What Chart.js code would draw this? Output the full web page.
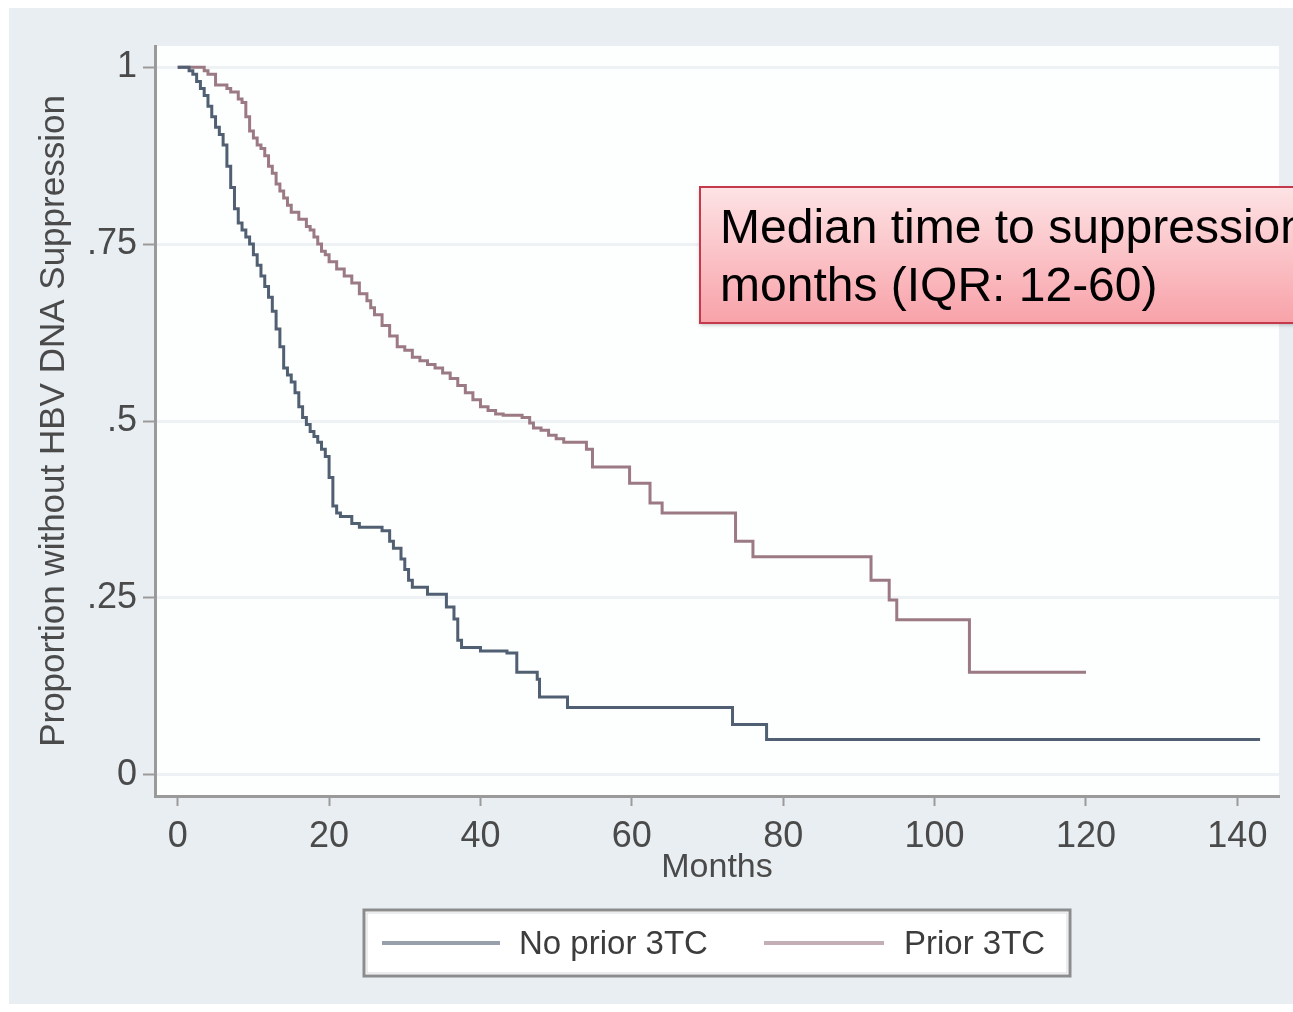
<!DOCTYPE html>
<html>
<head>
<meta charset="utf-8">
<script src="https://cdn.jsdelivr.net/npm/chart.js@4.4.1/dist/chart.umd.min.js"></script>
<style>
    html, body { margin: 0; padding: 0; background: #ffffff; }
    #wrap { width: 1293px; height: 1012px; position: relative; }
</style>
</head>
<body>
<div id="wrap"><canvas id="kmChart"></canvas></div>
<script>
// Kaplan-Meier style curves
const xTicks = [0, 20, 40, 60, 80, 100, 120, 140];
const yTicks = [0, 0.25, 0.5, 0.75, 1];
const yTickLabels = ['0', '.25', '.5', '.75', '1'];

const seriesLabels = ['No prior 3TC', 'Prior 3TC'];

const noPriorMonths = [0, 1, 1.5, 2, 2.5, 3, 3.5, 4, 4.5, 5, 5.5, 6, 6.5, 7, 7.5, 8, 8.5, 9, 9.5, 10,
    10.5, 11, 11.5, 12, 12.5, 13, 13.5, 14, 14.5, 15, 15.5, 16, 16.5, 17, 17.5, 18, 18.5, 19, 19.5, 20,
    20.5, 21, 21.5, 23, 24, 27, 28, 28.5, 29.5, 30, 30.5, 31, 33, 35.5, 36.5, 37, 37.5, 40, 43.5, 44.8,
    47.5, 47.8, 51.5, 73.3, 77.8, 143];
const noPriorSurv = [1, 1, 0.995, 0.99, 0.98, 0.97, 0.96, 0.945, 0.93, 0.915, 0.905, 0.89, 0.86, 0.83, 0.80, 0.78, 0.77, 0.76, 0.75, 0.735,
    0.72, 0.705, 0.69, 0.675, 0.655, 0.63, 0.605, 0.575, 0.565, 0.555, 0.54, 0.52, 0.505, 0.495, 0.485, 0.478, 0.47, 0.46, 0.45, 0.42,
    0.38, 0.37, 0.365, 0.355, 0.35, 0.345, 0.33, 0.32, 0.305, 0.29, 0.275, 0.265, 0.255, 0.237, 0.22, 0.19, 0.18, 0.175, 0.172, 0.145,
    0.135, 0.11, 0.095, 0.071, 0.05, 0.05];

const priorMonths = [0, 3, 3.5, 4, 5, 6.5, 7, 8, 8.5, 9, 9.5, 10, 10.5, 11, 11.5, 12, 12.5, 13, 13.5, 14,
    14.5, 15, 16, 17, 17.5, 18, 18.5, 19, 19.5, 20, 21, 22, 23, 24, 25, 25.5, 26, 27, 28, 29,
    30, 31, 32, 33, 34, 35, 36, 37, 38, 39, 40, 41, 42, 43, 45.5, 46.5, 47, 48, 49, 50,
    51, 54, 54.8, 59.7, 62.4, 64, 73.7, 76, 91.6, 94, 95, 104.6, 120];
const priorSurv = [1, 1, 0.995, 0.99, 0.975, 0.97, 0.965, 0.955, 0.95, 0.93, 0.91, 0.90, 0.89, 0.885, 0.875, 0.86, 0.85, 0.835, 0.825, 0.815,
    0.805, 0.795, 0.785, 0.775, 0.77, 0.76, 0.75, 0.74, 0.735, 0.725, 0.715, 0.705, 0.695, 0.68, 0.67, 0.66, 0.65, 0.635, 0.62, 0.605,
    0.60, 0.59, 0.585, 0.58, 0.575, 0.568, 0.56, 0.55, 0.54, 0.53, 0.52, 0.515, 0.51, 0.508, 0.505, 0.497, 0.49, 0.487, 0.48, 0.475,
    0.47, 0.46, 0.435, 0.412, 0.384, 0.37, 0.33, 0.308, 0.275, 0.247, 0.219, 0.145, 0.145];

const seriesColors = ['#515f72', '#9b7a83'];

const noteLines = ['Median time to suppression', 'months (IQR: 12-60)'];

const fontFam = '"Liberation Sans", Arial, sans-serif';

function toPoints(xs, ys) {
    return xs.map((x, i) => ({ x: x, y: ys[i] }));
}

// fondo gris y area blanca
const fondoPlugin = {
    id: 'fondo',
    beforeDraw(chart) {
        const { ctx, chartArea } = chart;
        ctx.save();
        ctx.fillStyle = '#ffffff';
        ctx.fillRect(0, 0, chart.width, chart.height);
        ctx.fillStyle = '#e9eef2';
        ctx.fillRect(9, 8, chart.width - 9, chart.height - 16);
        ctx.fillStyle = '#fdfefe';
        ctx.fillRect(chartArea.left, chartArea.top, chartArea.right - chartArea.left, chartArea.bottom - chartArea.top);
        ctx.restore();
    }
};

// leyenda con marco, estilo Stata
const leyendaPlugin = {
    id: 'leyenda',
    afterDraw(chart) {
        const { ctx, chartArea } = chart;
        const cx = (chartArea.left + chartArea.right) / 2;
        const w = 706, h = 66;
        const left = cx - w / 2;
        const top = chartArea.bottom + 114;
        ctx.save();
        ctx.fillStyle = '#ffffff';
        ctx.fillRect(left, top, w, h);
        ctx.strokeStyle = '#8c8c8c';
        ctx.lineWidth = 3;
        ctx.strokeRect(left, top, w, h);
        ctx.strokeStyle = '#d6d9dc';
        ctx.lineWidth = 1;
        ctx.strokeRect(left + 3, top + 3, w - 6, h - 6);

        const yMid = top + h / 2;
        const items = [
            { x1: left + 18, x2: left + 136, tx: left + 155 },
            { x1: left + 400, x2: left + 520, tx: left + 540 }
        ];
        ctx.font = '33px ' + fontFam;
        ctx.textBaseline = 'middle';
        ctx.textAlign = 'left';
        chart.data.datasets.forEach((ds, i) => {
            const it = items[i];
            ctx.globalAlpha = 0.6;
            ctx.strokeStyle = ds.borderColor;
            ctx.lineWidth = 4;
            ctx.beginPath();
            ctx.moveTo(it.x1, yMid);
            ctx.lineTo(it.x2, yMid);
            ctx.stroke();
            ctx.globalAlpha = 1;
            ctx.fillStyle = '#3c3c3c';
            ctx.fillText(ds.label, it.tx, yMid + 2);
        });
        ctx.restore();
    }
};

// recuadro rojo con la nota
const notaPlugin = {
    id: 'nota',
    afterDraw(chart) {
        const ctx = chart.ctx;
        const x = 700, y = 187, w = 640, h = 136;
        ctx.save();
        ctx.shadowColor = 'rgba(0,0,0,0.25)';
        ctx.shadowBlur = 4;
        ctx.shadowOffsetY = 2;
        const grad = ctx.createLinearGradient(0, y, 0, y + h);
        grad.addColorStop(0, '#fde3e5');
        grad.addColorStop(1, '#f8a2a9');
        ctx.fillStyle = grad;
        ctx.fillRect(x, y, w, h);
        ctx.shadowColor = 'transparent';
        ctx.strokeStyle = '#c43a4c';
        ctx.lineWidth = 2;
        ctx.strokeRect(x, y, w, h);
        ctx.fillStyle = '#000000';
        ctx.font = '48px ' + fontFam;
        ctx.textBaseline = 'middle';
        ctx.textAlign = 'left';
        ctx.fillText(noteLines[0], x + 20, y + 43);
        ctx.fillText(noteLines[1], x + 20, y + 101);
        ctx.restore();
    }
};

const ctx = document.getElementById('kmChart').getContext('2d');
new Chart(ctx, {
    type: 'line',
    data: {
        datasets: [
            {
                label: seriesLabels[0],
                data: toPoints(noPriorMonths, noPriorSurv),
                borderColor: seriesColors[0],
                backgroundColor: seriesColors[0],
                borderWidth: 3,
                pointRadius: 0,
                stepped: true,
                fill: false
            },
            {
                label: seriesLabels[1],
                data: toPoints(priorMonths, priorSurv),
                borderColor: seriesColors[1],
                backgroundColor: seriesColors[1],
                borderWidth: 3,
                pointRadius: 0,
                stepped: true,
                fill: false
            }
        ]
    },
    options: {
        responsive: true,
        maintainAspectRatio: false,
        animation: false,
        layout: { padding: { left: 0, right: 14, top: 46, bottom: 116 } },
        plugins: {
            legend: { display: false },
            tooltip: { enabled: false }
        },
        scales: {
            x: {
                type: 'linear',
                min: -3,
                max: 145.5,
                afterBuildTicks: (axis) => { axis.ticks = xTicks.map(v => ({ value: v })); },
                afterFit: (axis) => { axis.height = 100; },
                ticks: {
                    color: '#4a4a4a',
                    font: { size: 36, family: fontFam },
                    padding: 9,
                    maxRotation: 0,
                    autoSkip: false
                },
                grid: {
                    drawOnChartArea: false,
                    drawTicks: true,
                    tickLength: 10,
                    tickColor: '#9a9a9a',
                    tickWidth: 2
                },
                border: { color: '#9a9a9a', width: 3 },
                title: {
                    display: true,
                    text: 'Months',
                    color: '#4a4a4a',
                    font: { size: 34, family: fontFam },
                    padding: { top: 0, bottom: 8 }
                }
            },
            y: {
                type: 'linear',
                min: -0.03,
                max: 1.03,
                afterBuildTicks: (axis) => { axis.ticks = yTicks.map(v => ({ value: v })); },
                afterFit: (axis) => { axis.width = 155; },
                ticks: {
                    color: '#4a4a4a',
                    font: { size: 36, family: fontFam },
                    padding: 6,
                    callback: (value) => {
                        const i = yTicks.indexOf(value);
                        return i >= 0 ? yTickLabels[i] : '';
                    }
                },
                grid: {
                    color: '#eef2f5',
                    lineWidth: 3,
                    drawTicks: true,
                    tickLength: 12,
                    tickColor: '#9a9a9a',
                    tickWidth: 2
                },
                border: { color: '#9a9a9a', width: 3 },
                title: {
                    display: true,
                    text: 'Proportion without HBV DNA Suppression',
                    color: '#4a4a4a',
                    font: { size: 35, family: fontFam },
                    padding: { top: 33, bottom: 0 }
                }
            }
        }
    },
    plugins: [fondoPlugin, leyendaPlugin, notaPlugin]
});
</script>
</body>
</html>
